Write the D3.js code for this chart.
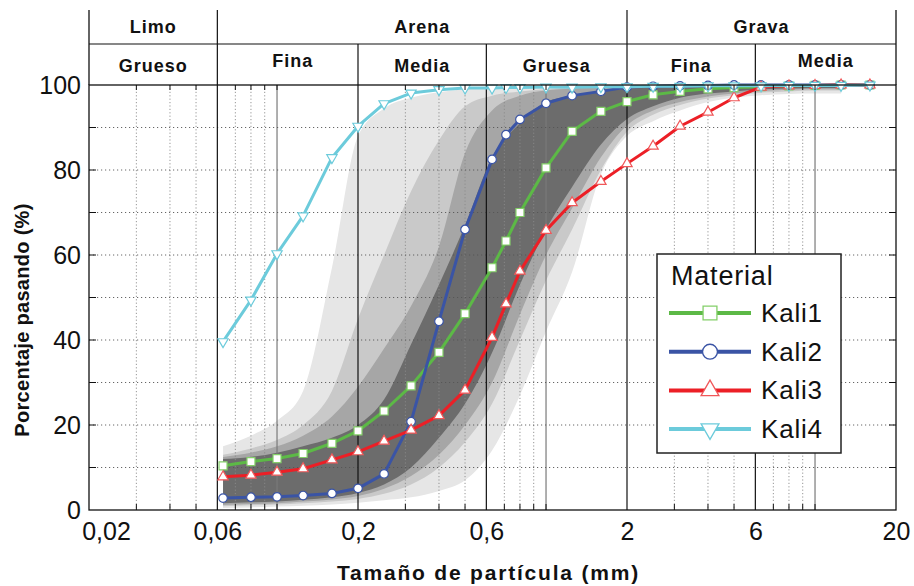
<!DOCTYPE html>
<html>
<head>
<meta charset="utf-8">
<script src="https://cdn.jsdelivr.net/npm/d3@7"></script>
<style>
  body { margin: 0; background: #fff; }
  text { font-family: "Liberation Sans", Arial, Helvetica, sans-serif; fill: #111; }
</style>
</head>
<body>
<svg id="chart" width="914" height="586"></svg>
<script>
// sieve sizes (mm) and % passing for each material
const sizes = [0.063, 0.08, 0.1, 0.125, 0.16, 0.2, 0.25, 0.315, 0.4, 0.5, 0.63, 0.71, 0.8, 1, 1.25, 1.6, 2, 2.5, 3.15, 4, 5, 6.3, 8, 10, 12.5, 16]
const kali1 = [10.4, 11.4, 12.1, 13.3, 15.7, 18.6, 23.3, 29.2, 37.1, 46.2, 57.0, 63.3, 70.0, 80.5, 89.1, 93.8, 96.1, 97.7, 98.5, 99.1, 99.4, 99.6, 99.8, 99.9, 100, 100]
const kali2 = [2.8, 3.0, 3.1, 3.4, 3.9, 5.1, 8.5, 20.8, 44.4, 66.0, 82.5, 88.3, 91.9, 95.7, 97.5, 98.5, 99.5, 99.7, 99.8, 99.9, 100, 100, 100, 100, 100, 100]
const kali3 = [7.8, 8.2, 8.9, 9.7, 11.8, 13.7, 16.2, 18.8, 22.2, 28.2, 40.6, 48.5, 56.2, 65.8, 72.3, 77.3, 81.5, 85.6, 90.3, 93.6, 97.0, 99.5, 99.8, 99.9, 100, 100]
const kali4 = [39.6, 49.4, 60.3, 69.2, 82.9, 90.3, 95.6, 98.1, 98.9, 99.3, 99.3, 99.4, 99.4, 99.5, 99.5, 99.6, 99.6, 99.7, 99.7, 99.8, 99.8, 99.8, 99.9, 99.9, 99.9, 100]
const seriesNames = ['Kali1', 'Kali2', 'Kali3', 'Kali4']

// grey reference envelopes (outer -> inner)
const bandSizes = [0.063, 0.08, 0.1, 0.125, 0.16, 0.2, 0.25, 0.315, 0.4, 0.5, 0.63, 0.8, 1, 1.25, 1.6, 2, 2.5, 3.15, 4, 5, 6.3, 8, 10, 12.5]
const band1Hi = [15, 17.5, 21, 28, 57, 88, 94.5, 97, 98.3, 99, 99.4, 99.6, 99.7, 99.8, 99.8, 99.8, 99.8, 99.8, 99.8, 99.8, 99.8, 99.8, 99.8, 99.8]
const band1Lo = [0.5, 0.6, 0.8, 1, 1.3, 1.7, 2.3, 3, 4.5, 7, 14, 27, 42, 56, 79, 88, 91.5, 94, 96, 97, 97.6, 97.9, 98, 98]
const band2Hi = [13, 14.5, 16.5, 20, 28, 45, 60, 75, 87, 95, 97.5, 98.5, 99, 99.3, 99.5, 99.6, 99.7, 99.7, 99.7, 99.7, 99.7, 99.7, 99.7, 99.7]
const band2Lo = [0.9, 1.1, 1.3, 1.6, 2, 2.6, 3.8, 6, 10, 16, 25, 40, 54, 66, 80, 89, 93, 95.3, 96.8, 97.6, 98.2, 98.5, 98.7, 98.7]
const band3Hi = [12.5, 13.5, 15, 17.5, 22, 29, 38, 48, 62, 84, 94, 97.5, 98.7, 99.2, 99.5, 99.6, 99.7, 99.7, 99.7, 99.7, 99.7, 99.7, 99.7, 99.7]
const band3Lo = [1.2, 1.4, 1.6, 2, 2.5, 3.3, 5, 8, 13, 20, 30, 46, 60, 71, 83, 90.5, 94, 96, 97.3, 98, 98.6, 98.9, 99, 99]
const band4Hi = [12, 12.5, 13.5, 15, 17, 20, 26, 39, 53, 67, 83, 91, 96, 97.5, 98.5, 99.2, 99.5, 99.6, 99.7, 99.7, 99.7, 99.7, 99.7, 99.7]
const band4Lo = [1.6, 1.8, 2, 2.4, 3, 4, 6, 10, 17, 25, 37, 53, 66, 76, 86, 92, 95, 97, 98, 98.5, 99, 99.2, 99.3, 99.3]

// axis ticks and soil classes
const xTickValues = [0.02, 0.06, 0.2, 0.6, 2, 6, 20]
const yTickValues = [0, 20, 40, 60, 80, 100]
const classLimits = [0.02, 0.06, 0.2, 0.6, 2, 6, 20]
const subClasses = ['Grueso', 'Fina', 'Media', 'Gruesa', 'Fina', 'Media']
const mainClasses = ['Limo', 'Arena', 'Grava']
const mainLimits = [[0.02, 0.06], [0.06, 2], [2, 20]]
const minorDotted = [0.03, 0.04, 0.05, 0.07, 0.08, 0.09, 0.3, 0.4, 0.5, 0.7, 0.8, 0.9, 3, 4, 5, 7, 8, 9]
const minorSolid = [0.1, 1, 10]

const margin = { top: 85, right: 18, bottom: 76, left: 89 }
const width = 914 - margin.left - margin.right
const height = 586 - margin.top - margin.bottom
const headerTop = -75
const headerMid = -41

const x = d3.scaleLog().domain([0.02, 20]).range([0, width])
const y = d3.scaleLinear().domain([0, 100]).range([height, 0])

const svg = d3.select('#chart')
const g = svg.append('g').attr('transform', `translate(${margin.left},${margin.top})`)

// envelopes
const bands = [
  { hi: band1Hi, lo: band1Lo, fill: '#e6e6e6' },
  { hi: band2Hi, lo: band2Lo, fill: '#c9c9c9' },
  { hi: band3Hi, lo: band3Lo, fill: '#a6a6a6' },
  { hi: band4Hi, lo: band4Lo, fill: '#6c6c6c' }
]
const area = d3.area()
  .x(d => x(d.size))
  .y0(d => y(d.lo))
  .y1(d => y(d.hi))
  .curve(d3.curveMonotoneX)

g.selectAll('path.band')
  .data(bands)
  .enter()
  .append('path')
    .attr('class', 'band')
    .attr('fill', d => d.fill)
    .attr('d', d => area(bandSizes.map((s, i) => ({ size: s, hi: d.hi[i], lo: d.lo[i] }))))

// grid
g.selectAll('line.vdot')
  .data(minorDotted)
  .enter()
  .append('line')
    .attr('x1', d => x(d)).attr('x2', d => x(d))
    .attr('y1', 0).attr('y2', height)
    .attr('stroke', '#8a8a8a').attr('stroke-width', 0.9)
    .attr('stroke-dasharray', '1.2,2.2')

g.selectAll('line.vsolid')
  .data(minorSolid)
  .enter()
  .append('line')
    .attr('x1', d => x(d)).attr('x2', d => x(d))
    .attr('y1', 0).attr('y2', height)
    .attr('stroke', '#7a7a7a').attr('stroke-width', 1.2)

g.selectAll('line.hdot')
  .data(d3.range(10, 100, 10))
  .enter()
  .append('line')
    .attr('x1', 0).attr('x2', width)
    .attr('y1', d => y(d)).attr('y2', d => y(d))
    .attr('stroke', '#555').attr('stroke-width', 0.9)
    .attr('stroke-dasharray', '1.2,2.8')

// class boundaries (through header and plot)
g.selectAll('line.cls')
  .data(classLimits.slice(1, -1))
  .enter()
  .append('line')
    .attr('x1', d => x(d)).attr('x2', d => x(d))
    .attr('y1', d => (d === 0.06 || d === 2) ? headerTop : headerMid)
    .attr('y2', height)
    .attr('stroke', '#111').attr('stroke-width', 1.2)

// header
g.append('line')
  .attr('x1', 0).attr('x2', width)
  .attr('y1', headerMid).attr('y2', headerMid)
  .attr('stroke', '#111').attr('stroke-width', 1.2)

g.selectAll('text.main')
  .data(mainClasses)
  .enter()
  .append('text')
    .attr('x', (d, i) => (x(mainLimits[i][0]) + x(mainLimits[i][1])) / 2)
    .attr('y', -52)
    .attr('text-anchor', 'middle')
    .style('font-size', '18px').style('font-weight', 'bold').style('letter-spacing', '1px')
    .text(d => d)

// the original raises two of the sub-class labels a little
g.selectAll('text.sub')
  .data(subClasses)
  .enter()
  .append('text')
    .attr('x', (d, i) => (x(classLimits[i]) + x(classLimits[i + 1])) / 2 + (i === 1 ? 5 : 0))
    .attr('y', (d, i) => (i === 1 || i === 5) ? -18 : -13)
    .attr('text-anchor', 'middle')
    .style('font-size', '18px').style('font-weight', 'bold').style('letter-spacing', '1px')
    .text(d => d)

// series
const series = [
  { name: seriesNames[0], values: kali1, line: '#5cb946', stroke: '#84cf69', symbol: d3.symbolSquare, size: 64, rot: 0 },
  { name: seriesNames[1], values: kali2, line: '#3a54a5', stroke: '#3a54a5', symbol: d3.symbolCircle, size: 58, rot: 0 },
  { name: seriesNames[2], values: kali3, line: '#ec1f26', stroke: '#f0585a', symbol: d3.symbolTriangle, size: 46, rot: 0 },
  { name: seriesNames[3], values: kali4, line: '#6ccbdb', stroke: '#6ccbdb', symbol: d3.symbolTriangle, size: 46, rot: 180 }
]

const line = d3.line()
  .x((d, i) => x(sizes[i]))
  .y(d => y(d))

series.forEach(s => {
  g.append('path')
    .attr('d', line(s.values))
    .attr('fill', 'none')
    .attr('stroke', s.line)
    .attr('stroke-width', 3)
    .attr('stroke-linejoin', 'round')

  g.selectAll(null)
    .data(s.values)
    .enter()
    .append('path')
      .attr('d', d3.symbol().type(s.symbol).size(s.size))
      .attr('transform', (d, i) => `translate(${x(sizes[i])},${y(d)}) rotate(${s.rot})`)
      .attr('fill', '#fff')
      .attr('stroke', s.stroke)
      .attr('stroke-width', 1.2)
})

// frame
g.append('rect')
  .attr('x', 0).attr('y', 0)
  .attr('width', width).attr('height', height)
  .attr('fill', 'none').attr('stroke', '#111').attr('stroke-width', 1.3)
g.append('line')
  .attr('x1', 0).attr('x2', 0).attr('y1', headerTop).attr('y2', 0)
  .attr('stroke', '#111').attr('stroke-width', 1.3)
g.append('line')
  .attr('x1', width).attr('x2', width).attr('y1', headerTop).attr('y2', 0)
  .attr('stroke', '#111').attr('stroke-width', 1.3)

// inward ticks
const allX = minorDotted.concat(minorSolid)
g.selectAll('line.bt')
  .data(allX)
  .enter()
  .append('line')
    .attr('x1', d => x(d)).attr('x2', d => x(d))
    .attr('y1', height).attr('y2', height - 6)
    .attr('stroke', '#111').attr('stroke-width', 1)
g.selectAll('line.tt')
  .data(allX)
  .enter()
  .append('line')
    .attr('x1', d => x(d)).attr('x2', d => x(d))
    .attr('y1', 0).attr('y2', 5)
    .attr('stroke', '#111').attr('stroke-width', 1)
g.selectAll('line.yt')
  .data(d3.range(10, 100, 10))
  .enter()
  .append('g')
  .each(function(d) {
    d3.select(this).append('line')
      .attr('x1', 0).attr('x2', 7).attr('y1', y(d)).attr('y2', y(d))
      .attr('stroke', '#111')
    d3.select(this).append('line')
      .attr('x1', width).attr('x2', width - 7).attr('y1', y(d)).attr('y2', y(d))
      .attr('stroke', '#111')
  })

// axes labels
const xAxis = g.append('g')
  .attr('transform', `translate(0,${height})`)
  .call(d3.axisBottom(x).tickValues(xTickValues).tickSize(0).tickPadding(12)
    .tickFormat(d => String(d).replace('.', ',')))
xAxis.select('.domain').remove()
xAxis.selectAll('text')
  .attr('dx', d => d === 0.02 ? 17 : 0)
  .style('font-size', '25px').style('font-family', '"Liberation Sans", Arial, sans-serif')
  .attr('fill', '#111')

const yAxis = g.append('g')
  .call(d3.axisLeft(y).tickValues(yTickValues).tickSize(0).tickPadding(8))
yAxis.select('.domain').remove()
yAxis.selectAll('text')
  .style('font-size', '25px').style('font-family', '"Liberation Sans", Arial, sans-serif')
  .attr('fill', '#111')

svg.append('text')
  .attr('x', margin.left + width / 2 - 4)
  .attr('y', 580)
  .attr('text-anchor', 'middle')
  .style('font-size', '21px').style('font-weight', 'bold').style('letter-spacing', '1.8px')
  .text('Tamaño de partícula (mm)')

svg.append('text')
  .attr('transform', 'translate(29,320) rotate(-90)')
  .attr('text-anchor', 'middle')
  .style('font-size', '20px').style('font-weight', 'bold').style('letter-spacing', '0.3px')
  .text('Porcentaje pasando (%)')

// legend
const lg = svg.append('g').attr('transform', 'translate(657,254)')
lg.append('rect')
  .attr('width', 184).attr('height', 199)
  .attr('fill', '#fff').attr('stroke', '#222').attr('stroke-width', 1.5)
lg.append('text')
  .attr('x', 14).attr('y', 31)
  .style('font-size', '27px').style('letter-spacing', '0.8px')
  .text('Material')
const items = lg.selectAll('g.item')
  .data(series)
  .enter()
  .append('g')
    .attr('transform', (d, i) => `translate(0,${59 + i * 38.7})`)
items.append('line')
  .attr('x1', 12).attr('x2', 94)
  .attr('stroke', d => d.line).attr('stroke-width', 4)
items.append('path')
  .attr('d', d => d3.symbol().type(d.symbol).size(d.size * 3)())
  .attr('transform', d => `translate(53,0) rotate(${d.rot})`)
  .attr('fill', '#fff').attr('stroke', d => d.stroke).attr('stroke-width', 1.3)
items.append('text')
  .attr('x', 104).attr('y', 9)
  .style('font-size', '26px').style('letter-spacing', '0.8px')
  .text(d => d.name)
</script>
</body>
</html>
